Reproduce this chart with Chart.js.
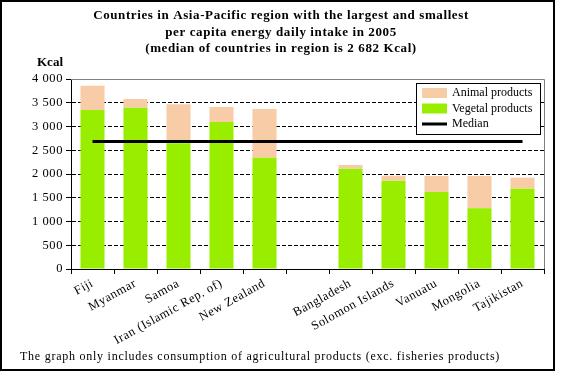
<!DOCTYPE html>
<html><head><meta charset="utf-8">
<script src="https://cdn.jsdelivr.net/npm/chart.js@4"></script>
<style>html,body{margin:0;padding:0;background:#fff;}#wrap{width:561px;height:373px;position:relative;}</style>
</head><body><div id="wrap"><canvas id="c" width="561" height="373"></canvas></div>
<script>
const categories = ["Fiji","Myanmar","Samoa","Iran (Islamic Rep. of)","New Zealand","","Bangladesh","Solomon Islands","Vanuatu","Mongolia","Tajikistan"];
const vegetal = [3347,3396,2650,3095,2343,null,2112,1860,1621,1277,1691];
const animal  = [512,183,817,316,1025,null,77,105,337,681,232];
const medianValue = 2682;
const median = categories.map(() => medianValue);
const yTicks = [0,500,1000,1500,2000,2500,3000,3500,4000];
const titleLines = ["Countries in Asia-Pacific region with the largest and smallest","per capita energy daily intake in 2005","(median of countries in region is 2 682 Kcal)"];
const footnote = "The graph only includes consumption of agricultural products (exc. fisheries products)";

const SERIF = "'Liberation Serif','Times New Roman',serif";
const GREEN = '#99EE00', PEACH = '#F8CCA6';
const SPACING = '0.6px';
function fmt(v){ return String(v).replace(/\B(?=(\d{3})+(?!\d))/g,' '); }

const spacing = {
  id:'spacing',
  beforeUpdate(chart){ chart.ctx.letterSpacing = SPACING; },
  beforeDraw(chart){ chart.ctx.letterSpacing = SPACING; }
};

const decor = {
  id:'decor',
  afterDraw(chart){
    const ctx = chart.ctx, a = chart.chartArea;
    ctx.save();
    ctx.strokeStyle = '#808080'; ctx.lineWidth = 1;
    ctx.beginPath();
    ctx.moveTo(a.left, a.top+0.5); ctx.lineTo(a.right+0.5, a.top+0.5); ctx.lineTo(a.right+0.5, a.bottom);
    ctx.stroke();
    ctx.strokeStyle = '#000'; ctx.lineWidth = 2;
    ctx.strokeRect(1,1,553,369);
    ctx.fillStyle = '#000'; ctx.textAlign = 'center'; ctx.textBaseline = 'middle';
    ctx.letterSpacing = '0.6px';
    ctx.font = 'bold 13px ' + SERIF;
    titleLines.forEach((t,i)=> ctx.fillText(t, 281, 16 + i*16.2));
    ctx.textAlign = 'left';
    ctx.letterSpacing = '0px';
    ctx.fillText('Kcal', 37, 63);
    ctx.letterSpacing = '0.75px';
    ctx.font = '12px ' + SERIF;
    ctx.fillText(footnote, 20, 357);
    ctx.letterSpacing = '0px';
    const lx=416, ly=83, lw=124, lh=51;
    ctx.fillStyle='#fff'; ctx.fillRect(lx,ly,lw,lh);
    ctx.strokeStyle='#000'; ctx.lineWidth=1; ctx.strokeRect(lx+0.5,ly+0.5,lw,lh);
    const ds = chart.data.datasets;
    [1,0,2].forEach((di,i)=>{
      const d = ds[di], y = ly + 10 + i*15.5;
      if (d.type === 'line') {
        ctx.fillStyle = d.borderColor; ctx.fillRect(lx+6, y-1.5, 25, 3);
      } else {
        ctx.fillStyle = d.backgroundColor; ctx.fillRect(lx+6, y-5, 25, 10);
      }
      ctx.fillStyle='#000'; ctx.textAlign='left'; ctx.textBaseline='middle';
      ctx.font = '12px ' + SERIF;
      ctx.fillText(d.label, lx+36, y);
    });
    ctx.restore();
  }
};

new Chart(document.getElementById('c'), {
  type:'bar',
  data:{
    labels: categories,
    datasets:[
      {label:'Vegetal products', data: vegetal, backgroundColor: GREEN, stack:'s', order:2},
      {label:'Animal products', data: animal, backgroundColor: PEACH, stack:'s', order:2},
      {label:'Median', type:'line', data: median, borderColor:'#000', backgroundColor:'#000', borderWidth:3, pointRadius:0, order:1}
    ]
  },
  options:{
    responsive:false, animation:false,
    layout:{padding:{left:0, top:79, right:17, bottom:0}},
    plugins:{legend:{display:false}, tooltip:{enabled:false}},
    datasets:{bar:{categoryPercentage:1, barPercentage:0.56}},
    scales:{
      x:{
        stacked:true,
        grid:{offset:true, drawOnChartArea:false, drawTicks:true, tickLength:5, color:'#000', tickColor:'#000'},
        border:{display:true, color:'#000', width:1},
        ticks:{color:'#000', font:{family:SERIF, size:12.5}, minRotation:29, maxRotation:29, autoSkip:false, padding:2},
        afterFit(s){ s.height = 104; }
      },
      y:{
        stacked:true, min:0, max:4000,
        afterBuildTicks(s){ s.ticks = yTicks.map(v=>({value:v})); },
        grid:{
          color:(c)=> (c.tick && (c.tick.value===0 || c.tick.value===4000)) ? 'rgba(0,0,0,0)' : '#000',
          tickColor:'#000', tickLength:5, lineWidth:1, tickBorderDash:[]
        },
        border:{display:true, color:'#000', width:1, dash:[4,2]},
        ticks:{color:'#000', font:{family:SERIF, size:12.5}, padding:3, callback:(v)=>fmt(v)},
        afterFit(s){ s.width = 71; }
      }
    }
  },
  plugins:[spacing, decor]
});
</script></body></html>
